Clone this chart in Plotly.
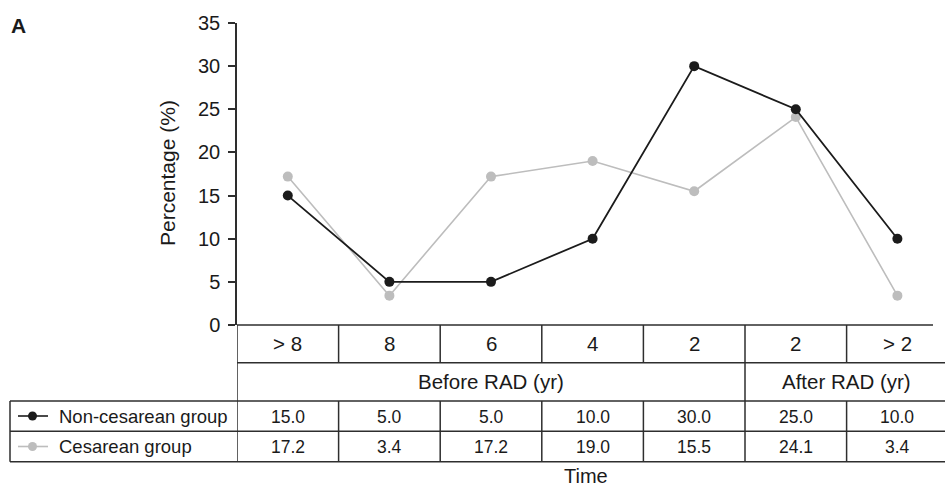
import plotly.graph_objects as go

categories = ["> 8", "8", "6", "4", "2", "2", "> 2"]
non_cesarean = [15.0, 5.0, 5.0, 10.0, 30.0, 25.0, 10.0]
cesarean = [17.2, 3.4, 17.2, 19.0, 15.5, 24.1, 3.4]
series_names = ["Non-cesarean group", "Cesarean group"]
group_labels = ["Before RAD (yr)", "After RAD (yr)"]
y_ticks = [0, 5, 10, 15, 20, 25, 30, 35]

W, H = 945, 489
BLACK = "#1b1b1b"
GRAY = "#bdbdbd"
LINE = "#2e2e2e"
FONT = "Liberation Sans, Arial, sans-serif"

def py(p):
    return 1 - p / H

def px(p):
    return p / W

x_idx = list(range(len(categories)))

fig = go.Figure()
fig.add_trace(go.Scatter(x=x_idx, y=cesarean, mode="lines+markers",
                         line=dict(color=GRAY, width=1.6),
                         marker=dict(color=GRAY, size=10),
                         name=series_names[1], cliponaxis=False))
fig.add_trace(go.Scatter(x=x_idx, y=non_cesarean, mode="lines+markers",
                         line=dict(color=BLACK, width=1.8),
                         marker=dict(color=BLACK, size=10),
                         name=series_names[0], cliponaxis=False))

x_left = 237
unit = 101.6
x_right_val = (W - x_left) / unit - 0.5

shapes = []
def hline(x0, x1, y, xref="x"):
    shapes.append(dict(type="line", xref=xref, yref="paper", x0=x0, x1=x1,
                       y0=py(y), y1=py(y), line=dict(color=LINE, width=1.5)))

def vline(x, y0, y1, xref="x"):
    shapes.append(dict(type="line", xref=xref, yref="paper", x0=x, x1=x,
                       y0=py(y0), y1=py(y1), line=dict(color=LINE, width=1.5)))

r_top, r_cat, r_grp, r_d1, r_d2 = 325, 362.7, 401, 431.2, 461.7
n = len(categories)
hline(-0.5, (933 - x_left) / unit - 0.5, r_top)
hline(-0.5, n - 0.5, r_cat)
for y in (r_grp, r_d1, r_d2):
    hline(px(10), 1.02, y, xref="paper")
vline(-0.5, r_top, r_d2)
vline(px(10), r_grp, r_d2, xref="paper")
for i in range(1, n + 1):
    xb = i - 0.5
    vline(xb, r_top, r_cat)
    vline(xb, r_grp, r_d2)
    if i == 5 or i == n:
        vline(xb, r_cat, r_grp)

for yy, col in ((416, BLACK), (446.5, GRAY)):
    shapes.append(dict(type="line", xref="paper", yref="paper", x0=px(18), x1=px(48),
                       y0=py(yy), y1=py(yy), line=dict(color=col, width=1.6)))
    shapes.append(dict(type="circle", xref="paper", yref="paper",
                       x0=px(32.5 - 4.5), x1=px(32.5 + 4.5), y0=py(yy + 4.5), y1=py(yy - 4.5),
                       fillcolor=col, line=dict(color=col, width=0)))

ann = []
def text(x, y, s, size, xref="x", xanchor="center", yanchor="middle", **kw):
    ann.append(dict(x=x, y=py(y), xref=xref, yref="paper", text=s, showarrow=False,
                    xanchor=xanchor, yanchor=yanchor,
                    font=dict(family=FONT, size=size, color="#1a1a1a"), **kw))

for i, c in enumerate(categories):
    text(i, (r_top + r_cat) / 2, c, 20.5)
text(2, (r_cat + r_grp) / 2, group_labels[0], 20.5)
text(5.5, (r_cat + r_grp) / 2, group_labels[1], 20.5)
for i in range(n):
    text(i, (r_grp + r_d1) / 2 + 0.5, f"{non_cesarean[i]:.1f}", 17.5)
    text(i, (r_d1 + r_d2) / 2 + 0.5, f"{cesarean[i]:.1f}", 17.5)
text(px(57), (r_grp + r_d1) / 2 + 0.5, series_names[0], 18.5, xref="paper", xanchor="left")
text(px(57), (r_d1 + r_d2) / 2 + 0.5, series_names[1], 18.5, xref="paper", xanchor="left")
text(px(585.5), 488.5, "Time", 20, xref="paper", yanchor="bottom")
text(px(167), 173, "Percentage (%)", 21, xref="paper", textangle=-90)
ann.append(dict(x=px(18), y=py(25), xref="paper", yref="paper", text="<b>A</b>",
                showarrow=False, xanchor="center", yanchor="middle",
                font=dict(family=FONT, size=21, color="#1a1a1a")))

fig.update_layout(
    width=W, height=H,
    margin=dict(l=0, r=0, t=0, b=0, pad=0, autoexpand=False),
    paper_bgcolor="white", plot_bgcolor="white",
    showlegend=False,
    shapes=shapes, annotations=ann,
    xaxis=dict(domain=[px(x_left), 1], range=[-0.5, x_right_val], visible=False,
               fixedrange=True),
    yaxis=dict(domain=[py(325), py(23)], range=[0, 35], tickvals=y_ticks,
               showline=True, linecolor=LINE, linewidth=1.5,
               ticks="outside", ticklen=7, tickwidth=1.5, tickcolor=LINE,
               showgrid=False, zeroline=False,
               tickfont=dict(family=FONT, size=20, color="#1a1a1a"),
               ticklabelstandoff=4),
)

fig.write_html("out.html", config={"displayModeBar": False},
               post_script="document.body.style.margin='0';document.documentElement.style.overflow='hidden';")
